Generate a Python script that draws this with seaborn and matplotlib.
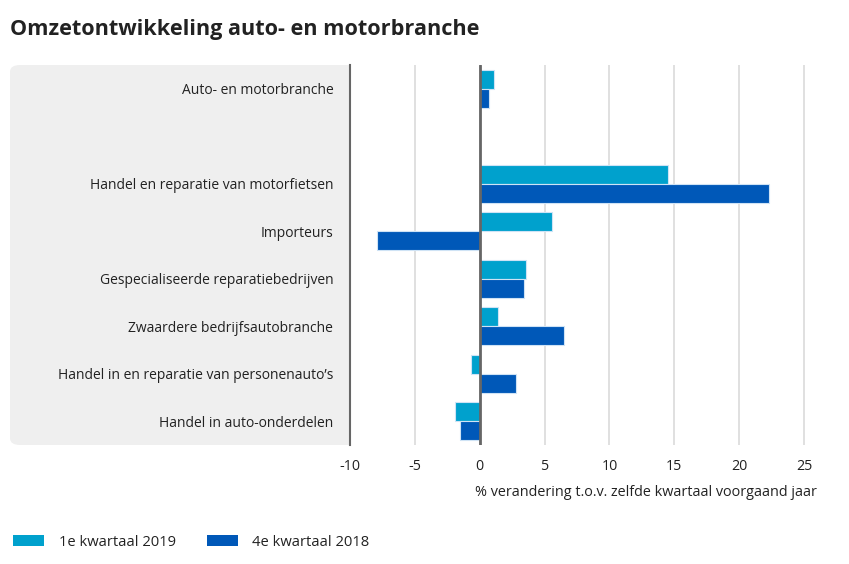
import numpy as np
import pandas as pd
import seaborn as sns
import matplotlib.pyplot as plt
from matplotlib.patches import FancyBboxPatch, Patch

categories = ["Auto- en motorbranche", " ", "Handel en reparatie van motorfietsen",
              "Importeurs", "Gespecialiseerde reparatiebedrijven",
              "Zwaardere bedrijfsautobranche",
              "Handel in en reparatie van personenauto’s", "Handel in auto-onderdelen"]
series = ["1e kwartaal 2019", "4e kwartaal 2018"]
q1_2019 = [1.1, np.nan, 14.5, 5.6, 3.6, 1.4, -0.7, -1.9]
q4_2018 = [0.7, np.nan, 22.3, -7.9, 3.4, 6.5, 2.8, -1.5]
colors = ["#00A1CD", "#0058B8"]

df = pd.DataFrame({
    "categorie": categories * 2,
    "reeks": [series[0]] * len(categories) + [series[1]] * len(categories),
    "waarde": q1_2019 + q4_2018,
})

sns.set_style("white")
plt.rcParams['font.family'] = ['Open Sans', 'DejaVu Sans']

fig = plt.figure(figsize=(8.49, 5.64), dpi=100)
ax = fig.add_axes([350 / 849, 1 - 445 / 564, 467 / 849, 380 / 564])

# grey panel behind the category labels
panel = FancyBboxPatch((10 / 849, 1 - 445 / 564), 360 / 849, 380 / 564,
                       boxstyle="round,pad=0,rounding_size=0.012",
                       transform=fig.transFigure, facecolor="#EFEFEF",
                       edgecolor="none", zorder=-1)
fig.add_artist(panel)

sns.barplot(data=df, y="categorie", x="waarde", hue="reeks", order=categories,
            hue_order=series, palette=colors, orient="h", width=0.8,
            edgecolor="#CFE3F5", linewidth=0.8, saturation=1, ax=ax)
ax.get_legend().remove()

ax.set_xlim(-10, 26)
ax.set_xticks([-10, -5, 0, 5, 10, 15, 20, 25])
ax.set_xticklabels(["-10", "-5", "0", "5", "10", "15", "20", "25"])
ax.xaxis.grid(True, color="#DADADA", lw=1.2)
ax.set_axisbelow(True)
ax.axvline(0, color="#666666", lw=2, zorder=3)
for s in ["top", "right", "bottom"]:
    ax.spines[s].set_visible(False)
ax.spines["left"].set_color("#666666")
ax.spines["left"].set_linewidth(1.5)
ax.tick_params(axis="y", length=0, pad=12, labelsize=10, labelcolor="#222222")
ax.tick_params(axis="x", length=0, pad=10, labelsize=10.3, labelcolor="#222222")
ax.set_ylabel("")
ax.set_xlabel("% verandering t.o.v. zelfde kwartaal voorgaand jaar", fontsize=10.4,
              color="#222222", loc="right", labelpad=8)

fig.text(10 / 849, 1 - 30 / 564, "Omzetontwikkeling auto- en motorbranche",
         fontsize=15.6, fontweight="bold", color="#222222", va="center")

handles = [Patch(facecolor=c, edgecolor="none") for c in colors]
fig.legend(handles, series, loc="center left", bbox_to_anchor=(0.0, 1 - 542 / 564),
           ncol=2, frameon=False, fontsize=10.6, handlelength=2.1, handleheight=0.8,
           handletextpad=1.0, columnspacing=2.1, labelcolor="#222222")

plt.savefig("out.png", dpi=100)
